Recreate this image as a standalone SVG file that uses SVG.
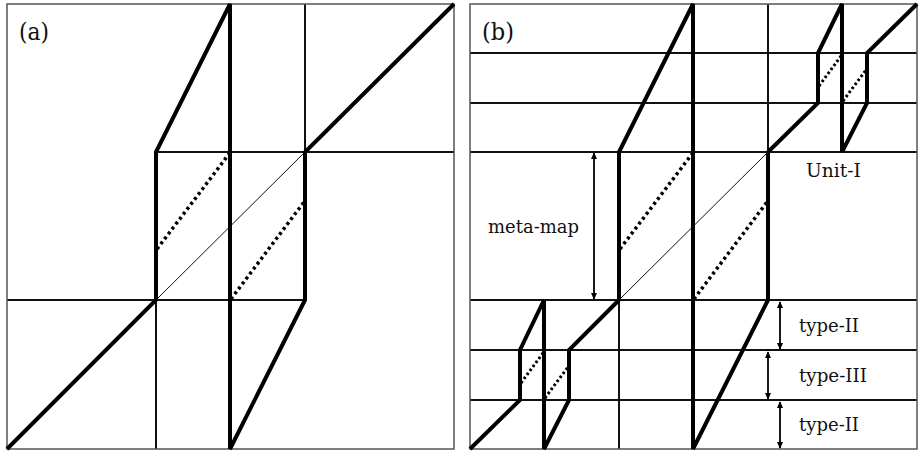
<svg xmlns="http://www.w3.org/2000/svg" width="921" height="454" viewBox="0 0 921 454">
<style>
.bg{fill:#fff}
.border{fill:none;stroke:#555;stroke-width:1.5}
.grid{fill:none;stroke:#111;stroke-width:1.3;shape-rendering:crispEdges}
.thin{fill:none;stroke:#111;stroke-width:1}
.thick{fill:none;stroke:#000;stroke-width:4;stroke-linejoin:miter;stroke-linecap:butt}
.dot{fill:none;stroke:#000;stroke-width:3.5;stroke-dasharray:3 3.2}
.dotS{fill:none;stroke:#000;stroke-width:3;stroke-dasharray:2.5 2.5}
.arr{fill:none;stroke:#000;stroke-width:1.8;marker-start:url(#ah);marker-end:url(#ah)}
text{font-family:"DejaVu Serif","Liberation Serif",serif;fill:#111}
.lbl{font-size:19px}
.pl{font-size:24px}
</style>
<defs>
<marker id="ah" viewBox="0 0 10 10" refX="9" refY="5" markerWidth="7" markerHeight="8" markerUnits="userSpaceOnUse" orient="auto-start-reverse">
<path d="M0,0.5 L10,5 L0,9.5 Z" fill="#000"/>
</marker>
</defs>
<rect width="921" height="454" class="bg"/>

<g id="panel-a">
  <g id="a-grid">
    <line class="grid" x1="305" y1="4" x2="305" y2="300"/>
    <line class="grid" x1="156" y1="152" x2="156" y2="449"/>
    <line class="grid" x1="156" y1="152" x2="454" y2="152"/>
    <line class="grid" x1="7" y1="300" x2="305" y2="300"/>
    <line class="thin" x1="156" y1="300" x2="305" y2="152"/>
    <rect class="border" x="7" y="4" width="447" height="445"/>
  </g>
  <g id="a-map">
    <polyline class="thick" points="7,449 156,300 156,152 230,4 230,449 305,300 305,152 454,4"/>
    <line class="dot" x1="157" y1="249" x2="229" y2="154"/>
    <line class="dot" x1="231" y1="299" x2="304" y2="202"/>
  </g>
  <text class="pl" x="19" y="40" textLength="30" lengthAdjust="spacingAndGlyphs">(a)</text>
</g>

<g id="panel-b">
  <g id="b-grid">
    <line class="grid" x1="470" y1="53" x2="917" y2="53"/>
    <line class="grid" x1="470" y1="103" x2="917" y2="103"/>
    <line class="grid" x1="470" y1="152" x2="917" y2="152"/>
    <line class="grid" x1="470" y1="300" x2="917" y2="300"/>
    <line class="grid" x1="470" y1="350" x2="917" y2="350"/>
    <line class="grid" x1="470" y1="400" x2="917" y2="400"/>
    <line class="grid" x1="768" y1="4" x2="768" y2="152"/>
    <line class="grid" x1="619" y1="300" x2="619" y2="449"/>
    <line class="thin" x1="619" y1="300" x2="768" y2="152"/>
    <rect class="border" x="470" y="4" width="447" height="445"/>
  </g>
  <g id="b-map">
    <polyline class="thick" points="619,300 619,152 693,4 693,449 768,300 768,152"/>
    <line class="dot" x1="620" y1="249" x2="692" y2="154"/>
    <line class="dot" x1="694" y1="299" x2="767" y2="202"/>
  </g>
  <g id="unit-I">
    <polyline class="thick" points="768,152 818,103 818,53 842,4 842,152 867,103 867,53 917,4"/>
    <line class="dotS" x1="819" y1="86" x2="841" y2="56"/>
    <line class="dotS" x1="843" y1="101" x2="866" y2="70"/>
    <text class="lbl" x="806" y="177" textLength="55" lengthAdjust="spacingAndGlyphs">Unit-I</text>
  </g>
  <g id="sub-map">
    <polyline class="thick" points="470,449 520,400 520,350 544,300 544,449 569,400 569,350 619,300"/>
    <line class="dotS" x1="521" y1="383" x2="543" y2="353"/>
    <line class="dotS" x1="545" y1="398" x2="568" y2="367"/>
  </g>
  <g id="annotations">
    <line class="arr" x1="594" y1="153" x2="594" y2="299"/>
    <text class="lbl" x="488" y="233" textLength="91" lengthAdjust="spacingAndGlyphs">meta-map</text>
    <line class="arr" x1="780" y1="302" x2="780" y2="349"/>
    <text class="lbl" x="799" y="332" textLength="60" lengthAdjust="spacingAndGlyphs">type-II</text>
    <line class="arr" x1="768" y1="352" x2="768" y2="399"/>
    <text class="lbl" x="799" y="382" textLength="68" lengthAdjust="spacingAndGlyphs">type-III</text>
    <line class="arr" x1="780" y1="402" x2="780" y2="448"/>
    <text class="lbl" x="799" y="431" textLength="60" lengthAdjust="spacingAndGlyphs">type-II</text>
  </g>
  <text class="pl" x="482" y="40" textLength="32" lengthAdjust="spacingAndGlyphs">(b)</text>
</g>
</svg>
